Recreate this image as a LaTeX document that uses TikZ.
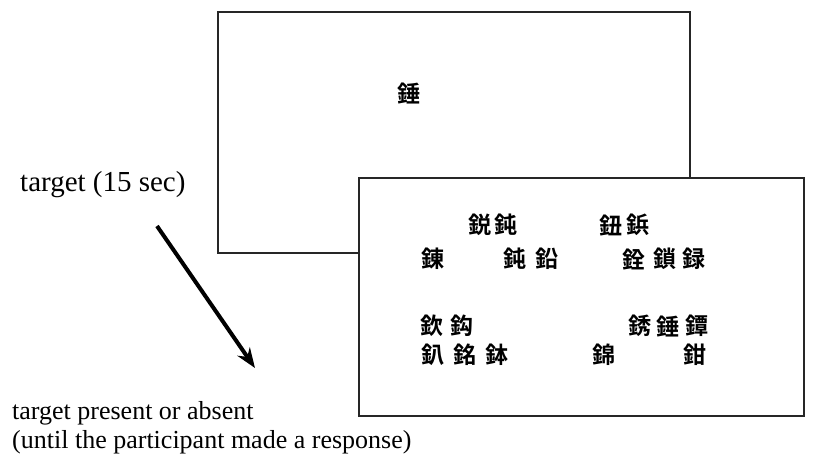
\documentclass[tikz,border=0pt]{standalone}
\usepackage{fontspec}
\setmainfont{Liberation Serif}
\newfontfamily\cjk{Noto Sans CJK JP}[BoldFont={Noto Sans CJK JP Bold}]
\usetikzlibrary{arrows.meta}
\begin{document}
\begin{tikzpicture}[x=1pt,y=-1pt,
  screen/.style={draw=black!85,line width=1.8pt,fill=white,anchor=north west,inner sep=0pt},
  lbl/.style={anchor=west,inner sep=0pt,font=\fontsize{26}{30}\selectfont},
  kanji/.style={inner sep=0pt,font=\cjk\bfseries\fontsize{23}{23}\selectfont}]
\useasboundingbox (0,0) rectangle (824,459);
\node[screen,minimum width=472pt,minimum height=241pt] (back) at (217,11) {};
\node[screen,minimum width=445pt,minimum height=238pt] (front) at (358,177) {};
\node[kanji] (t0) at (409,94) {錘};
% front display items
\node[kanji] (a1) at (480,225) {鋭};
\node[kanji] (a2) at (506,225) {鈍};
\node[kanji] (a3) at (611,225) {鈕};
\node[kanji] (a4) at (638,225) {鋲};
\node[kanji] (b1) at (433,259) {錬};
\node[kanji] (b2) at (515,259) {鈍};
\node[kanji] (b3) at (547,259) {鉛};
\node[kanji] (b4) at (634,259) {銓};
\node[kanji] (b5) at (665,259) {鎖};
\node[kanji] (b6) at (694,259) {録};
\node[kanji] (c1) at (432,326) {欽};
\node[kanji] (c2) at (462,326) {鈎};
\node[kanji] (c3) at (640,326) {銹};
\node[kanji] (c4) at (668,326) {錘};
\node[kanji] (c5) at (697,326) {鐔};
\node[kanji] (d1) at (433,355) {釟};
\node[kanji] (d2) at (465,355) {銘};
\node[kanji] (d3) at (497,355) {鉢};
\node[kanji] (d4) at (604,355) {錦};
\node[kanji] (d5) at (695,355) {鉗};
% labels
\node[lbl,font=\fontsize{29}{32}\selectfont] (l1) at (20,185) {target (15 sec)};
\node[lbl] (l2) at (12,413) {target present or absent};
\node[lbl] (l3) at (12,442) {(until the participant made a response)};
\coordinate (as) at (157,226);
\coordinate (ae) at (255,368);
\draw[line width=4pt,-{Stealth[length=20pt,width=15pt]}] (as) -- (ae);
\end{tikzpicture}
\end{document}
